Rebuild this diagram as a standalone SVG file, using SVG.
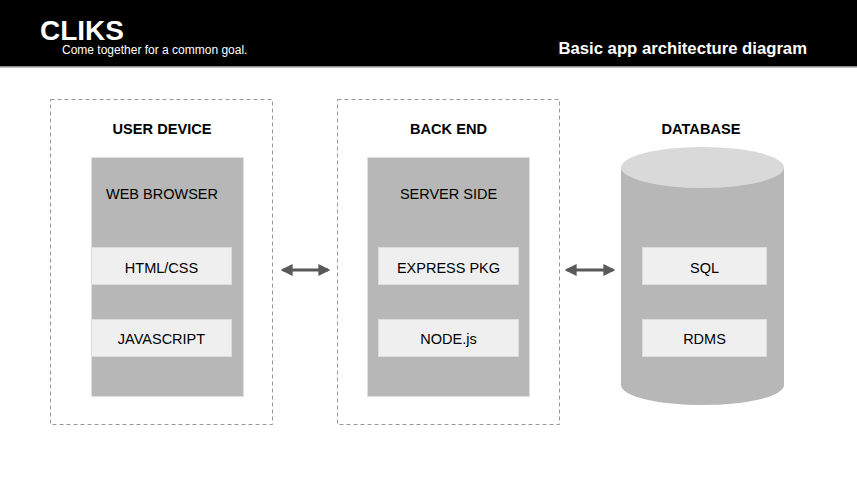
<svg xmlns="http://www.w3.org/2000/svg" width="857" height="481" viewBox="0 0 857 481">
<style>
text{font-family:"Liberation Sans",Arial,sans-serif;fill:#000}
.h{font-weight:bold;font-size:14.6px;text-anchor:middle}
.t{font-size:14.5px;text-anchor:middle}
.dash{fill:#fff;stroke:#999;stroke-width:1;stroke-dasharray:4,3}
.grey{fill:#b7b7b7;stroke:#e0e0e0;stroke-width:1}
.light{fill:#efefef;stroke:#dcdcdc;stroke-width:1}
.conn{stroke:#595959;stroke-width:3;fill:none;marker-start:url(#a);marker-end:url(#a)}
</style>
<defs>
<marker id="a" viewBox="0 0 10 10" refX="8" refY="5" markerWidth="4" markerHeight="4" orient="auto-start-reverse" markerUnits="strokeWidth">
<path d="M0,0 L10,5 L0,10 z" fill="#595959"/>
</marker>
</defs>
<rect width="857" height="481" fill="#fff"/>
<g id="header">
<rect x="0" y="0" width="857" height="66" fill="#000"/>
<rect x="0" y="66" width="857" height="1.5" fill="#888"/>
<text x="40" y="40" style="font-size:28px;font-weight:bold;fill:#fff">CLIKS</text>
<text x="62" y="54" style="font-size:12px;fill:#fff">Come together for a common goal.</text>
<text x="807" y="54" style="font-size:16.7px;font-weight:bold;fill:#fff;text-anchor:end">Basic app architecture diagram</text>
</g>
<g id="user-device">
<rect class="dash" x="50.5" y="99.5" width="222" height="325"/>
<text class="h" x="162" y="134">USER DEVICE</text>
<rect class="grey" x="91.5" y="157.5" width="152" height="239"/>
<text class="t" x="162" y="199">WEB BROWSER</text>
<rect class="light" x="91.5" y="247.5" width="140" height="37"/>
<text class="t" x="161.5" y="273">HTML/CSS</text>
<rect class="light" x="91.5" y="319.5" width="140" height="37"/>
<text class="t" x="161.5" y="344">JAVASCRIPT</text>
</g>
<g id="back-end">
<rect class="dash" x="337.5" y="99.5" width="222" height="325"/>
<text class="h" x="448.5" y="134">BACK END</text>
<rect class="grey" x="367.5" y="157.5" width="162" height="239"/>
<text class="t" x="448.5" y="199">SERVER SIDE</text>
<rect class="light" x="378.5" y="247.5" width="140" height="37"/>
<text class="t" x="448.5" y="273">EXPRESS PKG</text>
<rect class="light" x="378.5" y="319.5" width="140" height="37"/>
<text class="t" x="448.5" y="344">NODE.js</text>
</g>
<g id="database">
<text class="h" x="701" y="134">DATABASE</text>
<path d="M621,167.5 L621,385 A81.5,20 0 0 0 784,385 L784,167.5 Z" fill="#b7b7b7"/>
<ellipse cx="702.5" cy="167.5" rx="81.5" ry="20.5" fill="#d9d9d9"/>
<rect class="light" x="642.5" y="247.5" width="124" height="37"/>
<text class="t" x="704.5" y="273">SQL</text>
<rect class="light" x="642.5" y="319.5" width="124" height="37"/>
<text class="t" x="704.5" y="344">RDMS</text>
</g>
<g id="connectors">
<line class="conn" x1="283" y1="270" x2="328" y2="270"/>
<line class="conn" x1="567" y1="270" x2="613" y2="270"/>
</g>
</svg>
